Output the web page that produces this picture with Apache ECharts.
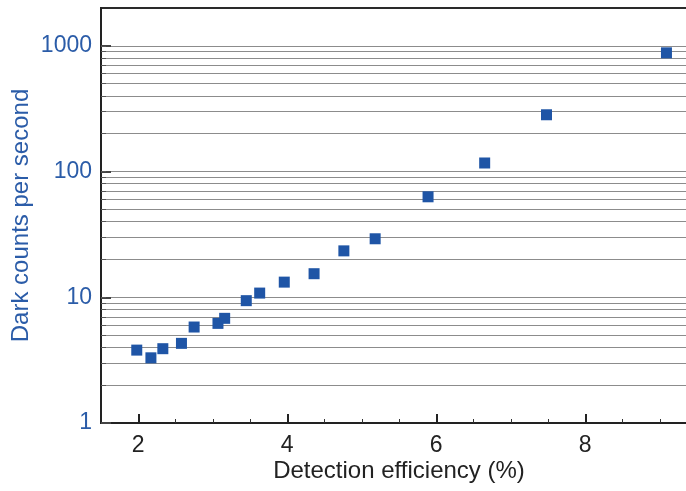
<!DOCTYPE html>
<html>
<head>
<meta charset="utf-8">
<script src="https://cdn.jsdelivr.net/npm/echarts@6/dist/echarts.min.js"></script>
<style>
html,body{margin:0;padding:0;background:#fff;}
#chart{width:686px;height:491px;}
</style>
</head>
<body>
<div id="chart"></div>
<script>
// Detection efficiency (%)
var efficiency = [1.98, 2.17, 2.33, 2.58, 2.75, 3.07, 3.16, 3.45, 3.63, 3.96, 4.36, 4.76, 5.18, 5.89, 6.65, 7.48, 9.09];
// Dark counts per second
var darkCounts = [3.8, 3.3, 3.9, 4.3, 5.8, 6.2, 6.8, 9.4, 10.8, 13.2, 15.4, 23.4, 29.2, 63, 117, 283, 880];

var xMajorTicks = [2, 4, 6, 8];
var xMinorTicks = [2.5, 3, 3.5, 4.5, 5, 5.5, 6.5, 7, 7.5, 8.5, 9];
var yMajorTicks = [1, 10, 100, 1000];
var yGridValues = [2, 3, 4, 5, 6, 7, 8, 9, 10, 20, 30, 40, 50, 60, 70, 80, 90, 100,
                   200, 300, 400, 500, 600, 700, 800, 900, 1000];

var points = efficiency.map(function (x, i) { return [x, darkCounts[i]]; });

var chart = echarts.init(document.getElementById('chart'), null, {renderer: 'canvas'});
var font = 'Liberation Sans, Arial, Helvetica, sans-serif';
var blue = '#2b5ca8';

chart.setOption({
  backgroundColor: '#ffffff',
  animation: false,
  grid: {
    left: 101, top: 8, width: 596, height: 415,
    containLabel: false,
    outerBoundsMode: 'none',
    show: true,
    borderColor: '#2a2a2a',
    borderWidth: 2
  },
  xAxis: [{
    type: 'value', min: 1.5, max: 9.5, position: 'bottom',
    name: 'Detection efficiency (%)', nameLocation: 'middle', nameGap: 36,
    nameMoveOverlap: false,
    nameTextStyle: {fontFamily: font, fontSize: 24, color: '#222'},
    axisLine: {show: true, lineStyle: {color: '#222', width: 2}},
    axisTick: {show: true, inside: true, length: 9, customValues: xMajorTicks, lineStyle: {color: '#222', width: 2}},
    axisLabel: {show: true, customValues: xMajorTicks, margin: 11, fontFamily: font, fontSize: 23, color: '#222'},
    splitLine: {show: false}
  }, {
    type: 'value', min: 1.5, max: 9.5, position: 'bottom',
    axisLine: {show: false},
    axisTick: {show: true, inside: true, length: 4, customValues: xMinorTicks, lineStyle: {color: '#333', width: 1}},
    axisLabel: {show: false},
    splitLine: {show: false}
  }],
  yAxis: [{
    type: 'log', logBase: 10, min: 1, max: 2000, position: 'left',
    name: 'Dark counts per second', nameLocation: 'middle', nameGap: 68, nameRotate: 90,
    nameMoveOverlap: false,
    nameTextStyle: {fontFamily: font, fontSize: 24, color: blue},
    axisLine: {show: true, lineStyle: {color: '#222', width: 2}},
    axisTick: {show: true, inside: true, length: 10, customValues: yMajorTicks, lineStyle: {color: '#444', width: 2}},
    axisLabel: {
      show: true, customValues: yMajorTicks, margin: 9, fontFamily: font, fontSize: 23, color: blue,
      formatter: function (v) { return String(Math.round(v)); }
    },
    splitLine: {show: false}
  }, {
    type: 'log', logBase: 10, min: 1, max: 2000, position: 'left',
    axisLine: {show: false},
    axisTick: {show: true, inside: true, length: 5, customValues: yGridValues, lineStyle: {color: '#555', width: 1}},
    axisLabel: {show: false},
    splitLine: {show: true, lineStyle: {color: '#8c8c8c', width: 1}}
  }],
  series: [{
    type: 'scatter',
    xAxisIndex: 0, yAxisIndex: 0,
    data: points,
    symbol: 'rect',
    symbolSize: 11,
    itemStyle: {color: '#1f55a6', opacity: 1},
    z: 5
  }]
});
</script>
</body>
</html>
